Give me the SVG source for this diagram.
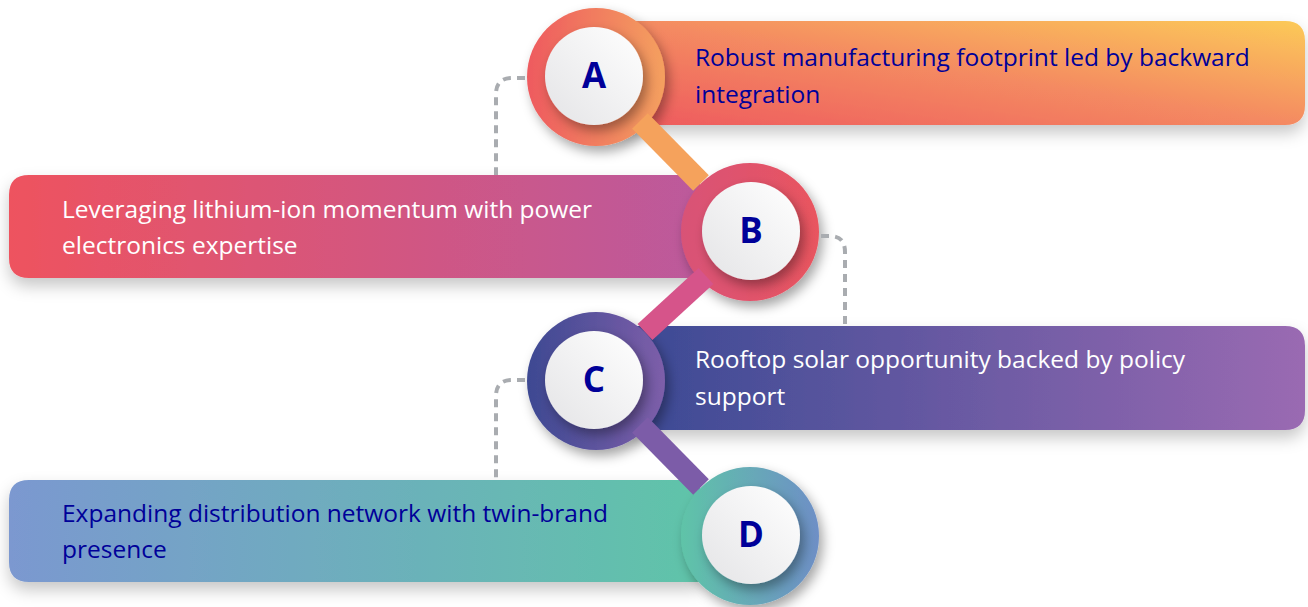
<svg xmlns="http://www.w3.org/2000/svg" width="1308" height="607" viewBox="0 0 1308 607">
<defs>
<style>
.lbl{font-family:"Open Sans","Noto Sans","Liberation Sans",sans-serif;font-size:24.5px}
.dk{fill:#000099}
.wt{fill:#ffffff}
.let{font-family:"Open Sans","Liberation Sans",sans-serif;font-size:35px;font-weight:bold;fill:#000099;text-anchor:middle}
.dash{fill:none;stroke:#a9acb0;stroke-width:4;stroke-dasharray:8 6}
.stem{stroke-width:22;stroke-linecap:butt}
</style>
<filter id="sh" x="-20%" y="-30%" width="140%" height="170%">
<feDropShadow dx="0" dy="8" stdDeviation="8" flood-color="#000" flood-opacity="0.22"/>
</filter>
<filter id="shc" x="-40%" y="-40%" width="180%" height="180%">
<feDropShadow dx="4" dy="6" stdDeviation="6" flood-color="#000" flood-opacity="0.35"/>
</filter>
<linearGradient id="gA" x1="0" y1="1" x2="1" y2="0"><stop offset="0" stop-color="#ee5a5d"/><stop offset="0.5" stop-color="#f48a62"/><stop offset="1" stop-color="#fcca58"/></linearGradient>
<linearGradient id="gB" x1="0" y1="0" x2="1" y2="0"><stop offset="0" stop-color="#ee525f"/><stop offset="1" stop-color="#bc5a9c"/></linearGradient>
<linearGradient id="gC" x1="0" y1="0" x2="1" y2="0"><stop offset="0" stop-color="#3b4a94"/><stop offset="1" stop-color="#9a6ab2"/></linearGradient>
<linearGradient id="gD" x1="0" y1="0" x2="1" y2="0"><stop offset="0" stop-color="#7b98d0"/><stop offset="1" stop-color="#60c4a9"/></linearGradient>
<linearGradient id="rA" x1="0" y1="0" x2="1" y2="0"><stop offset="0" stop-color="#ee5a5e"/><stop offset="1" stop-color="#f4a05e"/></linearGradient>
<linearGradient id="rB" x1="0" y1="0" x2="1" y2="0"><stop offset="0" stop-color="#d85277"/><stop offset="1" stop-color="#e9545f"/></linearGradient>
<linearGradient id="rC" x1="0" y1="0" x2="1" y2="0"><stop offset="0" stop-color="#3d4992"/><stop offset="1" stop-color="#7d5ea9"/></linearGradient>
<linearGradient id="rD" x1="0" y1="0" x2="1" y2="0"><stop offset="0" stop-color="#5fc4a8"/><stop offset="1" stop-color="#6e8fc6"/></linearGradient>
<linearGradient id="wh" x1="0" y1="1" x2="1" y2="0"><stop offset="0" stop-color="#e4e4e6"/><stop offset="1" stop-color="#ffffff"/></linearGradient>
</defs>
<rect width="1308" height="607" fill="#ffffff"/>

<g id="node-A">
<path d="M620 21 H1285 Q1305 21 1305 41 V105 Q1305 125 1285 125 H620 Z" fill="url(#gA)" filter="url(#sh)"/>
<circle cx="596" cy="77" r="69" fill="url(#rA)" filter="url(#shc)"/>
<circle cx="594" cy="76" r="49" fill="url(#wh)" filter="url(#shc)"/>
<text class="let" x="594" y="88">A</text>
<text class="lbl dk" x="695" y="66">Robust manufacturing footprint led by backward</text>
<text class="lbl dk" x="695" y="103">integration</text>
</g>

<g id="node-B">
<path d="M700 175 H29 Q9 175 9 195 V258 Q9 278 29 278 H700 Z" fill="url(#gB)" filter="url(#sh)"/>
<circle cx="750" cy="232" r="69" fill="url(#rB)" filter="url(#shc)"/>
<circle cx="751" cy="231" r="49" fill="url(#wh)" filter="url(#shc)"/>
<text class="let" x="751" y="243">B</text>
<text class="lbl wt" x="62" y="218">Leveraging lithium-ion momentum with power</text>
<text class="lbl wt" x="62" y="254">electronics expertise</text>
</g>

<g id="node-C">
<path d="M630 326 H1285 Q1305 326 1305 346 V410 Q1305 430 1285 430 H630 Z" fill="url(#gC)" filter="url(#sh)"/>
<circle cx="596" cy="381" r="69" fill="url(#rC)" filter="url(#shc)"/>
<circle cx="594" cy="380" r="49" fill="url(#wh)" filter="url(#shc)"/>
<text class="let" x="594" y="392">C</text>
<text class="lbl wt" x="695" y="368">Rooftop solar opportunity backed by policy</text>
<text class="lbl wt" x="695" y="405">support</text>
</g>

<g id="node-D">
<path d="M700 480 H29 Q9 480 9 500 V562 Q9 582 29 582 H700 Z" fill="url(#gD)" filter="url(#sh)"/>
<circle cx="750" cy="536" r="69" fill="url(#rD)" filter="url(#shc)"/>
<circle cx="751" cy="535" r="49" fill="url(#wh)" filter="url(#shc)"/>
<text class="let" x="751" y="547">D</text>
<text class="lbl dk" x="62" y="522">Expanding distribution network with twin-brand</text>
<text class="lbl dk" x="62" y="558">presence</text>
</g>

<g id="connectors">
<path class="dash" d="M525 78 H512 Q496 78 496 94 V175"/>
<path class="dash" d="M821 236 H830 Q845 236 845 252 V326"/>
<path class="dash" d="M525 380 H512 Q496 380 496 396 V480"/>
<line class="stem" x1="640" y1="121" x2="701" y2="183" stroke="#f5a25c"/>
<line class="stem" x1="706" y1="276" x2="645" y2="332" stroke="#d6548a"/>
<line class="stem" x1="640" y1="425" x2="701" y2="487" stroke="#7c5ca8"/>
</g>
</svg>
